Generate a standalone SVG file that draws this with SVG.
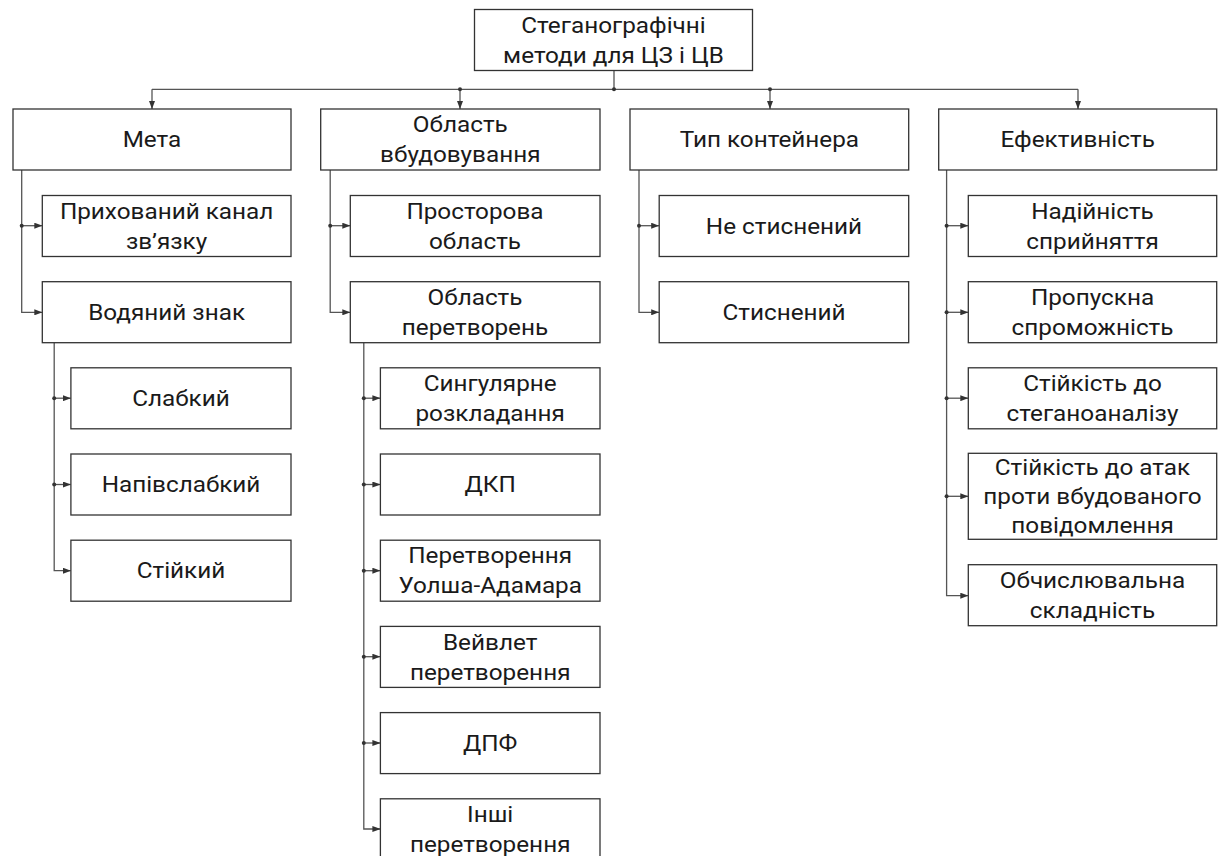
<svg xmlns="http://www.w3.org/2000/svg" width="1219" height="856" viewBox="0 0 1219 856">
<style>
.box{fill:#fff;stroke:#333;stroke-width:1.3}
text{font-family:Roboto,"Liberation Sans",sans-serif;font-size:22.5px;fill:#1a1a1a;text-anchor:middle;transform-box:fill-box;transform-origin:center;transform:scaleX(1.08)}
.c{fill:none;stroke:#555;stroke-width:1.3}
.a{marker-end:url(#arr)}
.d{fill:#333}
</style>
<defs>
<marker id="arr" viewBox="0 0 8 6" refX="8" refY="3" markerWidth="8" markerHeight="6" markerUnits="userSpaceOnUse" orient="auto"><path d="M0,0 L8,3 L0,6 Z" fill="#333"/></marker>
</defs>
<rect width="1219" height="856" fill="#fff"/>
<g id="connectors">
<path class="c" d="M614,71 V89.3 M152,89.3 H1078"/>
<path class="c a" d="M152,89.3 V109"/>
<path class="c a" d="M460,89.3 V109"/>
<path class="c a" d="M770,89.3 V109"/>
<path class="c a" d="M1078,89.3 V109"/>
<circle class="d" cx="614" cy="89.3" r="2"/>
<circle class="d" cx="460" cy="89.3" r="2"/>
<circle class="d" cx="770" cy="89.3" r="2"/>
<path class="c a" d="M21.7,170 V312.3 H42.3"/>
<path class="c a" d="M21.7,225.7 H42.3"/>
<circle class="d" cx="21.7" cy="225.7" r="2"/>
<path class="c a" d="M54.2,342.4 V570.7 H70.9"/>
<path class="c a" d="M54.2,398.2 H70.9"/>
<path class="c a" d="M54.2,484.5 H70.9"/>
<circle class="d" cx="54.2" cy="398.2" r="2"/>
<circle class="d" cx="54.2" cy="484.5" r="2"/>
<path class="c a" d="M330.2,170 V312.3 H350.3"/>
<path class="c a" d="M330.2,225.7 H350.3"/>
<circle class="d" cx="330.2" cy="225.7" r="2"/>
<path class="c a" d="M363.8,342.4 V829 H380.4"/>
<path class="c a" d="M363.8,398.2 H380.4"/>
<path class="c a" d="M363.8,484.5 H380.4"/>
<path class="c a" d="M363.8,570.7 H380.4"/>
<path class="c a" d="M363.8,656.7 H380.4"/>
<path class="c a" d="M363.8,743 H380.4"/>
<circle class="d" cx="363.8" cy="398.2" r="2"/>
<circle class="d" cx="363.8" cy="484.5" r="2"/>
<circle class="d" cx="363.8" cy="570.7" r="2"/>
<circle class="d" cx="363.8" cy="656.7" r="2"/>
<circle class="d" cx="363.8" cy="743" r="2"/>
<path class="c a" d="M639,170 V312.3 H659.2"/>
<path class="c a" d="M639,225.7 H659.2"/>
<circle class="d" cx="639" cy="225.7" r="2"/>
<path class="c a" d="M946.6,170 V595.7 H968.3"/>
<path class="c a" d="M946.6,225.7 H968.3"/>
<path class="c a" d="M946.6,312.3 H968.3"/>
<path class="c a" d="M946.6,398.2 H968.3"/>
<path class="c a" d="M946.6,496.3 H968.3"/>
<circle class="d" cx="946.6" cy="225.7" r="2"/>
<circle class="d" cx="946.6" cy="312.3" r="2"/>
<circle class="d" cx="946.6" cy="398.2" r="2"/>
<circle class="d" cx="946.6" cy="496.3" r="2"/>
</g>
<g id="root"><rect class="box" x="474.5" y="9.5" width="278" height="61"/><text x="613.5" y="33.3">Стеганографічні</text><text x="613.5" y="63.3">методи для ЦЗ і ЦВ</text></g>
<g id="meta"><rect class="box" x="13" y="109" width="278" height="61"/><text x="152" y="147.3">Мета</text></g>
<g id="oblast"><rect class="box" x="320.7" y="109" width="279.3" height="61"/><text x="460.3" y="132.2">Область</text><text x="460.3" y="162.2">вбудовування</text></g>
<g id="typ"><rect class="box" x="630" y="109" width="278.7" height="61"/><text x="769.4" y="147.3">Тип контейнера</text></g>
<g id="efekt"><rect class="box" x="938.7" y="109" width="278" height="61"/><text x="1077.7" y="147.3">Ефективність</text></g>
<g id="prykh"><rect class="box" x="42.3" y="195.5" width="248.7" height="61"/><text x="166.6" y="218.7">Прихований канал</text><text x="166.6" y="248.7">зв’язку</text></g>
<g id="vodyanyi"><rect class="box" x="42.3" y="281.7" width="248.7" height="61"/><text x="166.6" y="320">Водяний знак</text></g>
<g id="slabkyi"><rect class="box" x="70.9" y="367.8" width="220.1" height="61"/><text x="181" y="406">Слабкий</text></g>
<g id="napivslabkyi"><rect class="box" x="70.9" y="454" width="220.1" height="61"/><text x="181" y="492.2">Напівслабкий</text></g>
<g id="stiikyi"><rect class="box" x="70.9" y="540.2" width="220.1" height="61"/><text x="181" y="578.4">Стійкий</text></g>
<g id="prostorova"><rect class="box" x="350.3" y="195.5" width="249.7" height="61"/><text x="475" y="218.7">Просторова</text><text x="475" y="248.7">область</text></g>
<g id="peretvoren"><rect class="box" x="350.3" y="281.7" width="249.7" height="61"/><text x="475" y="304.9">Область</text><text x="475" y="334.9">перетворень</text></g>
<g id="synguliarne"><rect class="box" x="380.4" y="367.8" width="219.6" height="61"/><text x="490.2" y="391">Сингулярне</text><text x="490.2" y="421">розкладання</text></g>
<g id="dkp"><rect class="box" x="380.4" y="454" width="219.6" height="61"/><text x="490.2" y="492.2">ДКП</text></g>
<g id="uolsha"><rect class="box" x="380.4" y="540.2" width="219.6" height="61"/><text x="490.2" y="563.4">Перетворення</text><text x="490.2" y="593.4">Уолша-Адамара</text></g>
<g id="veivlet"><rect class="box" x="380.4" y="626.4" width="219.6" height="61"/><text x="490.2" y="649.6">Вейвлет</text><text x="490.2" y="679.6">перетворення</text></g>
<g id="dpf"><rect class="box" x="380.4" y="712.6" width="219.6" height="61"/><text x="490.2" y="750.8">ДПФ</text></g>
<g id="inshi"><rect class="box" x="380.4" y="798.8" width="219.6" height="61"/><text x="490.2" y="822">Інші</text><text x="490.2" y="852">перетворення</text></g>
<g id="nestysnenyi"><rect class="box" x="659.2" y="195.5" width="249.5" height="61"/><text x="784" y="233.7">Не стиснений</text></g>
<g id="stysnenyi"><rect class="box" x="659.2" y="281.7" width="249.5" height="61"/><text x="784" y="320">Стиснений</text></g>
<g id="nadiinist"><rect class="box" x="968.3" y="195.5" width="248.4" height="61"/><text x="1092.5" y="218.7">Надійність</text><text x="1092.5" y="248.7">сприйняття</text></g>
<g id="propuskna"><rect class="box" x="968.3" y="281.7" width="248.4" height="61"/><text x="1092.5" y="304.9">Пропускна</text><text x="1092.5" y="334.9">спроможність</text></g>
<g id="steganoanaliz"><rect class="box" x="968.3" y="367.8" width="248.4" height="61"/><text x="1092.5" y="391">Стійкість до</text><text x="1092.5" y="421">стеганоаналізу</text></g>
<g id="ataky"><rect class="box" x="968.3" y="453.3" width="248.4" height="86"/><text x="1092.5" y="475.5">Стійкість до атак</text><text x="1092.5" y="504.5">проти вбудованого</text><text x="1092.5" y="533.5">повідомлення</text></g>
<g id="obchysl"><rect class="box" x="968.3" y="564.7" width="248.4" height="61"/><text x="1092.5" y="588">Обчислювальна</text><text x="1092.5" y="618">складність</text></g>
</svg>
